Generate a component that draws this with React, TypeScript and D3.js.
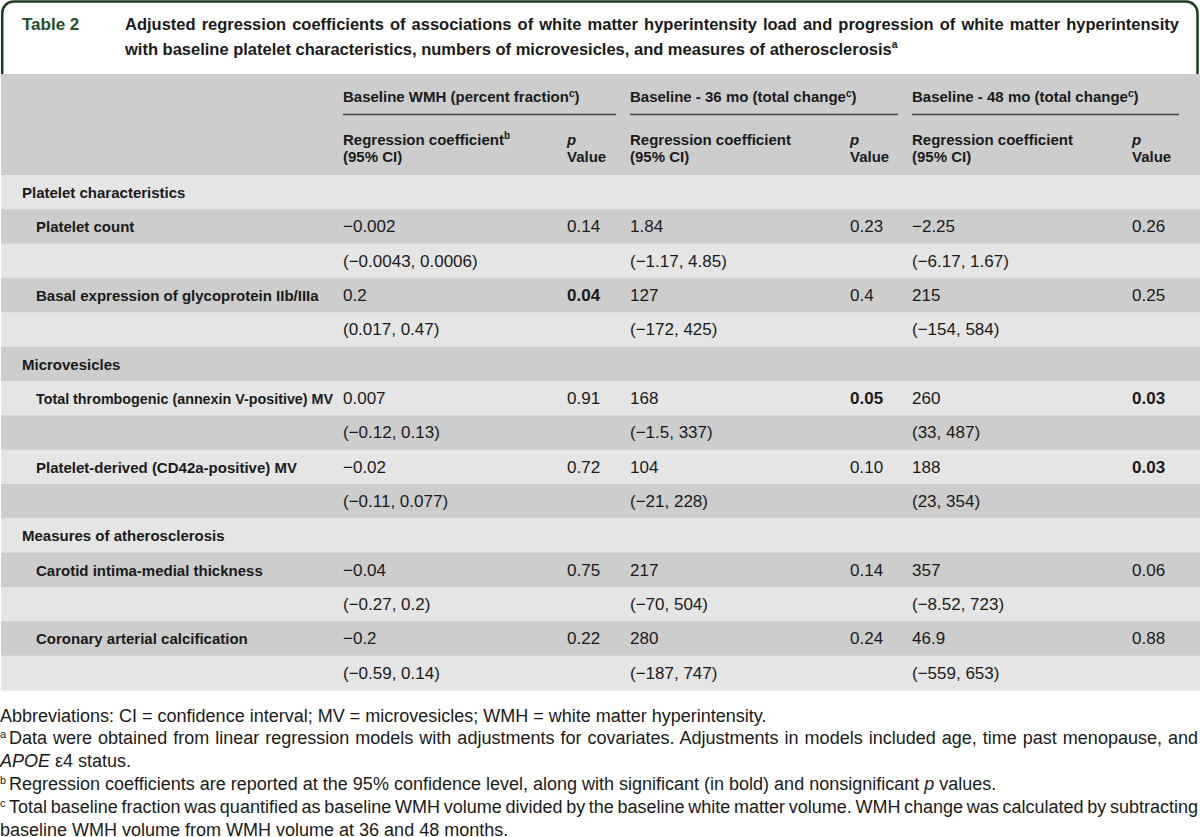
import React, { useLayoutEffect, useRef } from "react";
import * as d3 from "d3";

// ---------- data ----------
const groups = ["Platelet characteristics", "Microvesicles", "Measures of atherosclerosis"];
const measures = [
  "Platelet count",
  "Basal expression of glycoprotein IIb/IIIa",
  "Total thrombogenic (annexin V-positive) MV",
  "Platelet-derived (CD42a-positive) MV",
  "Carotid intima-medial thickness",
  "Coronary arterial calcification",
];
const measureGroup = [0, 0, 1, 1, 2, 2];
const periods = ["Baseline WMH (percent fraction", "Baseline - 36 mo (total change", "Baseline - 48 mo (total change"];

const baselineCoef = ["−0.002", "0.2", "0.007", "−0.02", "−0.04", "−0.2"];
const baselineCI = ["(−0.0043, 0.0006)", "(0.017, 0.47)", "(−0.12, 0.13)", "(−0.11, 0.077)", "(−0.27, 0.2)", "(−0.59, 0.14)"];
const baselineP = ["0.14", "0.04", "0.91", "0.72", "0.75", "0.22"];
const m36Coef = ["1.84", "127", "168", "104", "217", "280"];
const m36CI = ["(−1.17, 4.85)", "(−172, 425)", "(−1.5, 337)", "(−21, 228)", "(−70, 504)", "(−187, 747)"];
const m36P = ["0.23", "0.4", "0.05", "0.10", "0.14", "0.24"];
const m48Coef = ["−2.25", "215", "260", "188", "357", "46.9"];
const m48CI = ["(−6.17, 1.67)", "(−154, 584)", "(33, 487)", "(23, 354)", "(−8.52, 723)", "(−559, 653)"];
const m48P = ["0.26", "0.25", "0.03", "0.03", "0.06", "0.88"];
const sigThreshold = 0.05;

const captionLines = [
  "Adjusted regression coefficients of associations of white matter hyperintensity load and progression of white matter hyperintensity",
  "with baseline platelet characteristics, numbers of microvesicles, and measures of atherosclerosis",
];
const footAbbrev = "Abbreviations: CI = confidence interval; MV = microvesicles; WMH = white matter hyperintensity.";
const footA = "Data were obtained from linear regression models with adjustments for covariates. Adjustments in models included age, time past menopause, and";
const footB1 = "Regression coefficients are reported at the 95% confidence level, along with significant (in bold) and nonsignificant ";
const footB2 = " values.";
const footC1 = "Total baseline fraction was quantified as baseline WMH volume divided by the baseline white matter volume. WMH change was calculated by subtracting";
const footC2 = "baseline WMH volume from WMH volume at 36 and 48 months.";

const coefs = [baselineCoef, m36Coef, m48Coef];
const cis = [baselineCI, m36CI, m48CI];
const ps = [baselineP, m36P, m48P];

// ---------- layout ----------
const W = 1200;
const H = 837;
const FONT = "'Liberation Sans', Arial, Helvetica, sans-serif";
const TEXT = "#1a1a1a";
const DARK = "#cdcdcd";
const LIGHT = "#e5e5e5";
const GREEN = "#1d3c22";
const colCoef = [343, 630, 912];
const colP = [567, 850, 1132];
const groupEnd = [616, 898, 1179];

type Row = { kind: "group" | "value" | "ci"; g?: number; m?: number };
const rows: Row[] = [];
groups.forEach((_, gi) => {
  rows.push({ kind: "group", g: gi });
  measures.forEach((_, mi) => {
    if (measureGroup[mi] === gi) {
      rows.push({ kind: "value", m: mi });
      rows.push({ kind: "ci", m: mi });
    }
  });
});

const y = d3.scaleBand<number>().domain(d3.range(rows.length)).range([175, 690]);

export default function App() {
  const ref = useRef<SVGSVGElement>(null);

  useLayoutEffect(() => {
    if (!ref.current) return;
    const svg = d3.select(ref.current);
    // justify paragraph lines by word spacing
    svg.selectAll<SVGTextElement, unknown>("text[data-justify]").each(function () {
      const el = this;
      const x0 = +(el.getAttribute("x") || 0);
      const target = +(el.getAttribute("data-justify") || 0) - x0;
      el.style.wordSpacing = "0px";
      const natural = el.getComputedTextLength();
      const spaces = ((el.textContent || "").match(/ /g) || []).length;
      if (spaces) el.style.wordSpacing = `${(target - natural) / spaces}px`;
    });
    // squeeze labels that would run into the next column
    svg.selectAll<SVGTextElement, unknown>("text[data-maxw]").each(function () {
      const el = this;
      const maxw = +(el.getAttribute("data-maxw") || 0);
      if (el.getComputedTextLength() > maxw) {
        el.setAttribute("textLength", String(maxw));
        el.setAttribute("lengthAdjust", "spacingAndGlyphs");
      }
    });
  }, []);

  const bw = y.bandwidth();
  const fsVal = 17;
  const fsBold = 15;
  const footY = d3.range(6).map((i) => 721.5 + i * 22.9);

  return (
    <div style={{ position: "absolute", left: 0, top: 0 }}>
      <svg ref={ref} width={W} height={H} style={{ display: "block", background: "#fff" }} fontFamily={FONT}>
        {/* title box */}
        <path
          d={`M2.2,80 V13 A11.5,11.5 0 0 1 13.7,1.5 H1186 A11.5,11.5 0 0 1 1197.5,13 V80`}
          fill="#fff"
          stroke={GREEN}
          strokeWidth={2.5}
        />
        <text x={22} y={30} fontSize={17} fontWeight="bold" fill="#234e2c">Table 2</text>
        <text x={125} y={29.5} fontSize={16.5} fontWeight="bold" fill={TEXT} data-justify={1179}>{captionLines[0]}</text>
        <text x={125} y={54.5} fontSize={16.5} fontWeight="bold" fill={TEXT}>
          {captionLines[1]}
          <tspan fontSize={10.5} dy={-6.5}>a</tspan>
        </text>

        {/* header band */}
        <rect x={1} y={74} width={W - 1} height={101} fill={DARK} />
        {periods.map((p, i) => (
          <g key={p}>
            <text x={colCoef[i]} y={102} fontSize={fsBold} fontWeight="bold" fill={TEXT}>
              {p}
              <tspan fontSize={10} dy={-5.5}>c</tspan>
              <tspan dy={5.5}>)</tspan>
            </text>
            <line x1={colCoef[i]} x2={groupEnd[i]} y1={114.5} y2={114.5} stroke="#454545" strokeWidth={1.6} />
            <text x={colCoef[i]} y={145} fontSize={fsBold} fontWeight="bold" fill={TEXT}>
              Regression coefficient
              {i === 0 && <tspan fontSize={10} dy={-6}>b</tspan>}
            </text>
            <text x={colCoef[i]} y={162} fontSize={fsBold} fontWeight="bold" fill={TEXT}>(95% CI)</text>
            <text x={colP[i]} y={145} fontSize={fsBold} fontWeight="bold" fontStyle="italic" fill={TEXT}>p</text>
            <text x={colP[i]} y={162} fontSize={fsBold} fontWeight="bold" fill={TEXT}>Value</text>
          </g>
        ))}

        {/* body rows */}
        {rows.map((r, i) => {
          const top = y(i)!;
          const base = top + 23;
          return (
            <g key={i}>
              <rect x={1} y={top} width={W - 1} height={bw + 0.5} fill={i % 2 === 0 ? LIGHT : DARK} />
              {r.kind === "group" && (
                <text x={22} y={base} fontSize={fsBold} fontWeight="bold" fill={TEXT}>{groups[r.g!]}</text>
              )}
              {r.kind === "value" && (
                <>
                  <text x={36} y={base} fontSize={fsBold} fontWeight="bold" fill={TEXT} data-maxw={colCoef[0] - 36 - 10}>
                    {measures[r.m!]}
                  </text>
                  {coefs.map((c, k) => (
                    <text key={"c" + k} x={colCoef[k]} y={base} fontSize={fsVal} fill={TEXT}>{c[r.m!]}</text>
                  ))}
                  {ps.map((p, k) => (
                    <text
                      key={"p" + k}
                      x={colP[k]}
                      y={base}
                      fontSize={fsVal}
                      fontWeight={+p[r.m!] <= sigThreshold ? "bold" : "normal"}
                      fill={TEXT}
                    >
                      {p[r.m!]}
                    </text>
                  ))}
                </>
              )}
              {r.kind === "ci" &&
                cis.map((c, k) => (
                  <text key={"ci" + k} x={colCoef[k]} y={base} fontSize={fsVal} fill={TEXT}>{c[r.m!]}</text>
                ))}
            </g>
          );
        })}

        {/* footnotes */}
        <g fontSize={18} fill={TEXT}>
          <text x={0} y={footY[0]}>{footAbbrev}</text>
          <text x={0} y={footY[1] - 6} fontSize={11}>a</text>
          <text x={9} y={footY[1]} data-justify={1198}>{footA}</text>
          <text x={0} y={footY[2]}>
            <tspan fontStyle="italic">APOE</tspan> ε4 status.
          </text>
          <text x={0} y={footY[3] - 6} fontSize={11}>b</text>
          <text x={9} y={footY[3]}>
            {footB1}
            <tspan fontStyle="italic">p</tspan>
            {footB2}
          </text>
          <text x={0} y={footY[4] - 6} fontSize={11}>c</text>
          <text x={9} y={footY[4]} data-justify={1198}>{footC1}</text>
          <text x={0} y={footY[5]}>{footC2}</text>
        </g>
      </svg>
    </div>
  );
}
